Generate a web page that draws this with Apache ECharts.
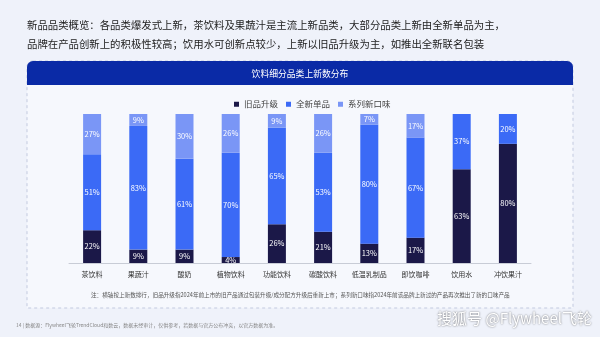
<!DOCTYPE html>
<html><head><meta charset="utf-8">
<script src="https://cdn.jsdelivr.net/npm/echarts@6/dist/echarts.min.js"></script>
<style>html,body{margin:0;padding:0;background:#eff2fa}#c{width:600px;height:337px}</style>
</head><body><div id="c"></div>
<script>
const categories = ['茶饮料','果蔬汁','酸奶','植物饮料','功能饮料','碳酸饮料','低温乳制品','即饮咖啡','饮用水','冲饮果汁'];
const seriesNames = ['旧品升级','全新单品','系列新口味'];
const oldUpgrade = [22, 9, 9, 4, 26, 21, 13, 17, 63, 80];
const brandNew   = [51, 83, 61, 70, 65, 53, 80, 67, 37, 20];
const newFlavor  = [27, 9, 30, 26, 9, 26, 7, 17, 0, 0];
const colors = ['#1b1848', '#3b6af6', '#7a96f6'];
const headline1 = '新品品类概览：各品类爆发式上新，茶饮料及果蔬汁是主流上新品类，大部分品类上新由全新单品为主，';
const headline2 = '品牌在产品创新上的积极性较高；饮用水可创新点较少，上新以旧品升级为主，如推出全新联名包装';
const panelTitle = '饮料细分品类上新数分布';
const note = '注：横轴按上新数排行，旧品升级指2024年前上市的旧产品通过包装升级/成分配方升级后重新上市；系列新口味指2024年前该品牌上新过的产品再次推出了新的口味产品';
const footer = '14 | 数据源：Flywheel飞轮TrendCloud和数云，数据未经审计，仅供参考，若数据与官方公布冲突，以官方数据为准。';

const chart = echarts.init(document.getElementById('c'));
const font = '"Noto Sans CJK SC", "Noto Sans", sans-serif';
const mk = (name, data, i) => ({
  name, type: 'bar', stack: 'all', data, barWidth: 18,
  itemStyle: { color: colors[i] },
  label: { show: true, position: 'inside', color: '#fff', fontSize: 7.5, fontFamily: font,
    formatter: p => p.value > 0 ? p.value + '%' : '' }
});
chart.setOption({
  backgroundColor: '#eff2fa',
  textStyle: { fontFamily: font },
  graphic: [
    { type: 'text', x: 27, y: 25, style: { text: headline1, fontSize: 10.4, fill: '#222', verticalAlign: 'middle', fontFamily: font } },
    { type: 'text', x: 27, y: 44, style: { text: headline2, fontSize: 10.4, fill: '#222', verticalAlign: 'middle', fontFamily: font } },
    { type: 'rect', shape: { x: 27, y: 61, width: 546, height: 247, r: [6,6,0,0] }, z: -10,
      style: { fill: '#f6f8fd', stroke: '#c3cadf', lineWidth: 1, lineDash: [3,3] } },
    { type: 'rect', shape: { x: 27, y: 61, width: 546, height: 24, r: [6,6,0,0] }, z: -9,
      style: { fill: '#0a2aa6' } },
    { type: 'text', x: 300, y: 74, style: { text: panelTitle, fontSize: 8.8, fill: '#fff', align: 'center', verticalAlign: 'middle', fontFamily: font } },
    { type: 'text', x: 91, y: 295, style: { text: note, fontSize: 5.6, fill: '#555', verticalAlign: 'middle', fontFamily: font } },
    { type: 'text', x: 16, y: 325, style: { text: footer, fontSize: 5, fill: '#888', verticalAlign: 'middle', fontFamily: font } },
    { type: 'text', x: 592, y: 318, style: { text: '搜狐号 @Flywheel飞轮', fontSize: 15, fill: '#fff', align: 'right', verticalAlign: 'middle',
      fontFamily: font, textShadowColor: 'rgba(0,0,0,0.6)', textShadowBlur: 2 } }
  ],
  legend: { data: seriesNames, left: 229, top: 95, icon: 'rect', itemWidth: 5, itemHeight: 5, itemGap: 8,
    textStyle: { fontSize: 8.5, color: '#444', fontFamily: font } },
  grid: { left: 69, width: 462, top: 114, height: 149 },
  xAxis: { type: 'category', data: categories,
    axisLine: { lineStyle: { color: '#c8ccd6' } }, axisTick: { show: false },
    axisLabel: { fontSize: 7, color: '#333', margin: 8, interval: 0 } },
  yAxis: { type: 'value', min: 0, max: 100, show: false, splitLine: { show: false } },
  series: [mk(seriesNames[0], oldUpgrade, 0), mk(seriesNames[1], brandNew, 1), mk(seriesNames[2], newFlavor, 2)]
});
</script></body></html>
